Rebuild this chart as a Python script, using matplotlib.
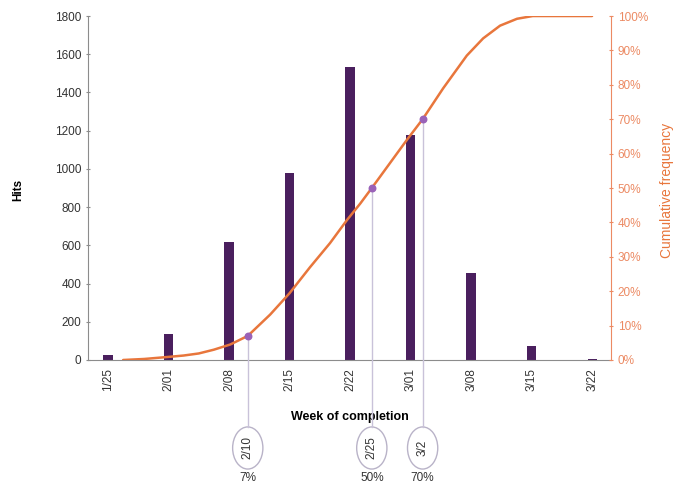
import numpy as np
import matplotlib.pyplot as plt
from matplotlib.patches import Ellipse
from matplotlib import transforms

plt.rcParams['font.family'] = ['Liberation Sans', 'DejaVu Sans']

weeks = ['1/25', '2/01', '2/08', '2/15', '2/22', '3/01', '3/08', '3/15', '3/22']
hits = [25, 135, 620, 980, 1533, 1175, 455, 73, 4]

# cumulative frequency curve, positions in week units
cum_x = [0.25, 0.6, 1.0, 1.25, 1.5, 1.75, 2.02, 2.31, 2.68, 3.0, 3.34, 3.67,
         3.95, 4.17, 4.36, 4.65, 4.94, 5.2, 5.54, 5.93, 6.2, 6.48, 6.76, 7.02, 8.0]
cum_pct = [0, 0.3, 0.9, 1.3, 1.9, 3.0, 4.5, 7, 13.2, 19.4, 27, 34.0,
           40.7, 45.5, 50, 57, 64, 70, 79, 88.5, 93.5, 97.2, 99.2, 100, 100]

# highlighted dates
mark_x = [2.31, 4.36, 5.2]
mark_pct = [7, 50, 70]
mark_date = ['2/10', '2/25', '3/2']
mark_label = ['7%', '50%', '70%']

bar_color = '#4a1f5e'
line_color = '#e8763c'
axis_orange = '#ec8a63'
gray = '#8c8c8c'

fig = plt.figure(figsize=(6.75, 4.84), dpi=100)
ax = fig.add_axes([0.1304, 0.2562, 0.7745, 0.7107])
ax2 = ax.twinx()

x = np.arange(len(weeks))
ax.bar(x, hits, width=0.15, color=bar_color, zorder=2)
ax.set_ylim(0, 1800)
ax.set_yticks(range(0, 1801, 200))
ax.set_xlim(-0.33, 8.31)
ax.set_xticks(x)
ax.set_xticklabels(weeks, rotation=90, fontsize=8.5, color='#333333')
ax.tick_params(axis='y', labelsize=8.5, labelcolor='#333333', color=gray,
               length=3, direction='inout')
ax.tick_params(axis='x', length=0, pad=6)
ax.set_ylabel('Hits', fontsize=8.5, fontweight='bold')
ax.yaxis.set_label_coords(-0.122, 0.494)
ax.set_xlabel('Week of completion', fontsize=9, fontweight='bold', labelpad=14)

for s in ['top', 'right']:
    ax.spines[s].set_visible(False)
ax.spines['left'].set_color(gray)
ax.spines['bottom'].set_color(gray)

ax2.plot(cum_x, cum_pct, color=line_color, lw=1.8, zorder=3,
         solid_capstyle='round', solid_joinstyle='round')
ax2.set_ylim(0, 100)
ax2.set_yticks(range(0, 101, 10))
ax2.set_yticklabels([f'{v}%' for v in range(0, 101, 10)])
ax2.tick_params(axis='y', labelsize=8.5, labelcolor=axis_orange, color=axis_orange,
                length=3, direction='inout')
ax2.set_ylabel('Cumulative frequency', fontsize=10, color=line_color)
ax2.yaxis.set_label_coords(1.094, 0.494)
for s in ['top', 'left', 'bottom']:
    ax2.spines[s].set_visible(False)
ax2.spines['right'].set_color(axis_orange)

# drop lines from the curve to the date circles below the axis
for mx, mp in zip(mark_x, mark_pct):
    ax2.plot([mx, mx], [mp, -19.5], color='#c9c2d9', lw=1, clip_on=False, zorder=1)
ax2.scatter(mark_x, mark_pct, s=22, color='#9a62b8', zorder=4, clip_on=False)

trans = transforms.blended_transform_factory(ax.transData, fig.transFigure)
for mx, d, lab in zip(mark_x, mark_date, mark_label):
    ax.add_patch(Ellipse((mx, 0.0744), 0.5, 0.087, transform=trans, fill=False,
                         edgecolor='#b9b3c8', lw=1, clip_on=False))
    fig.text(mx, 0.0744, d, transform=trans, rotation=90, ha='center', va='center',
             fontsize=8.5, color='#333333')
    fig.text(mx, 0.0124, lab, transform=trans, ha='center', va='center',
             fontsize=8.5, color='#333333')

fig.savefig('out.png', dpi=100)
